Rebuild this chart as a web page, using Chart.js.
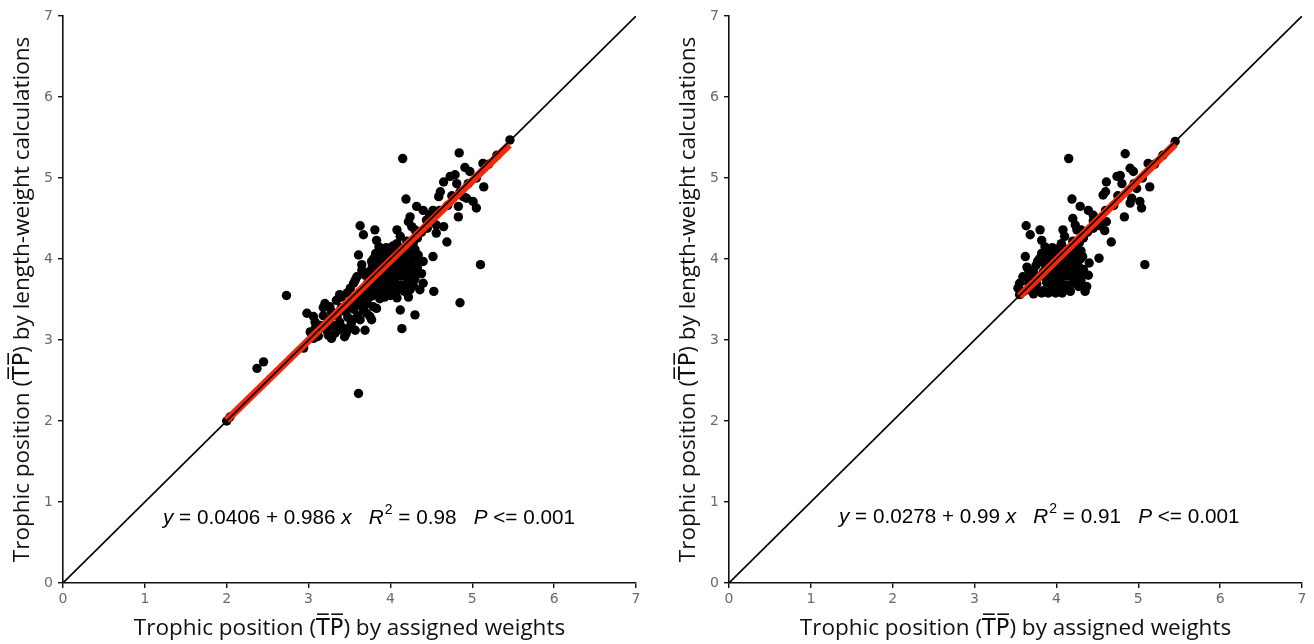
<!DOCTYPE html>
<html>
<head>
<meta charset="utf-8">
<script src="https://cdn.jsdelivr.net/npm/chart.js@4.4.0/dist/chart.umd.min.js"></script>
<style>
html,body{margin:0;padding:0;background:#fff;width:1314px;height:644px;overflow:hidden;}
#wl{position:absolute;left:0;top:0;width:657px;height:644px;}
#wr{position:absolute;left:666px;top:0;width:648px;height:644px;}
</style>
</head>
<body>
<div id="wl"><canvas id="cl"></canvas></div>
<div id="wr"><canvas id="cr"></canvas></div>
<script>
// ---------- data ----------
const tickValues = [0, 1, 2, 3, 4, 5, 6, 7];
const xTitle = "Trophic position (T\u0305P\u0305) by assigned weights";
const yTitle = "Trophic position (T\u0305P\u0305) by length-weight calculations";
const identityLine = [[0, 0], [7, 7]];

const leftPoints = [
[5.46,5.47],[4.84,5.31],[4.15,5.24],[5.13,5.18],[4.91,5.13],[4.97,5.08],[4.79,5.04],[4.73,5.02],[4.65,4.95],[4.81,4.93],[5.14,4.89],[4.61,4.83],[4.59,4.77],[4.85,4.83],[4.89,4.77],[4.93,4.75],[5.01,4.71],[5.05,4.63],[4.83,4.65],[4.83,4.52],[4.19,4.74],[4.32,4.65],[4.40,4.60],[4.52,4.60],[4.48,4.54],[4.24,4.52],[4.22,4.46],[4.26,4.40],[4.44,4.48],[4.56,4.42],[4.65,4.40],[4.56,4.32],[4.69,4.21],
[5.30,5.28],[5.20,5.17],[5.05,5.00],[4.95,4.93],[4.75,4.78],[4.70,4.66],[4.60,4.60],[4.50,4.47],[4.45,4.38],[4.38,4.33],[4.33,4.26],[4.28,4.20],[4.20,4.22],[4.30,4.36],
[3.63,4.41],[3.67,4.30],[3.81,4.36],[3.83,4.23],[4.08,4.36],[4.12,4.28],[4.08,4.19],[4.52,4.03],[4.40,3.97],[4.38,3.82],[4.40,3.70],[4.36,3.62],[5.10,3.93],[4.53,3.60],[4.85,3.46],[3.61,4.05],[3.65,3.93],[3.59,3.78],[3.57,3.74],[3.51,3.64],[3.55,3.70],[3.69,3.80],[3.77,3.97],[3.65,3.86],[4.24,3.62],[4.22,3.53],
[3.86,4.15],[3.95,4.14],[4.03,4.16],[4.13,4.13],[4.22,4.15],[4.30,4.12],
[3.82,4.07],[3.90,4.09],[3.99,4.06],[4.07,4.08],[4.16,4.05],[4.25,4.08],[4.34,4.05],
[3.79,4.00],[3.88,3.99],[3.96,4.01],[4.05,3.98],[4.12,4.00],[4.21,3.98],[4.29,4.01],[4.36,3.97],
[3.78,3.92],[3.86,3.93],[3.94,3.91],[4.02,3.93],[4.10,3.90],[4.18,3.92],[4.27,3.91],[4.33,3.89],
[3.75,3.85],[3.84,3.84],[3.92,3.86],[4.00,3.84],[4.09,3.85],[4.16,3.83],[4.25,3.85],[4.31,3.82],
[3.73,3.77],[3.82,3.79],[3.90,3.76],[3.98,3.78],[4.06,3.77],[4.14,3.79],[4.22,3.76],[4.30,3.75],
[3.72,3.70],[3.80,3.69],[3.88,3.71],[3.96,3.68],[4.04,3.70],[4.12,3.68],[4.20,3.70],[4.28,3.67],
[3.70,3.62],[3.78,3.63],[3.86,3.61],[3.94,3.63],[4.02,3.60],[4.10,3.62],[4.17,3.60],
[3.68,3.55],[3.77,3.54],[3.85,3.56],[3.93,3.53],[4.00,3.55],[4.08,3.52],
[4.12,3.37],[4.30,3.31],[4.14,3.14],[3.83,3.39],[3.75,3.29],[3.61,2.34],[2.73,3.55],[2.98,3.33],[3.06,3.29],[2.37,2.65],[2.45,2.73],[2.04,2.05],[2.00,2.00],[3.69,3.12],[3.44,3.04],[3.57,3.12],[3.20,3.45],[3.38,3.56],[3.47,3.58],[3.61,3.43],[3.67,3.37],[3.08,3.14],[3.10,3.04],[2.94,2.90],[3.49,3.14],[3.71,3.33],[3.77,3.25],[3.63,3.25],[3.87,3.51],[3.79,3.41],[3.26,3.41],[3.34,3.49],[3.40,3.53],
[3.02,3.10],[3.08,3.22],[3.12,3.05],[3.15,3.18],[3.18,3.30],[3.22,3.12],[3.25,3.25],[3.28,3.35],[3.30,3.18],[3.32,3.08],[3.35,3.30],[3.38,3.22],[3.40,3.40],[3.42,3.15],[3.45,3.35],[3.48,3.28],[3.50,3.45],[3.52,3.20],[3.55,3.38],[3.58,3.50],[3.60,3.30],[3.62,3.58],[3.65,3.48],[3.68,3.62],[3.70,3.52],[3.72,3.45],[3.36,3.12],[3.46,3.08],[3.54,3.25],[3.28,3.02],[3.18,3.40],[3.24,3.06],[3.74,3.60],[3.06,3.02]
];
const leftFit = [[2.00, 2.01], [5.45, 5.41]];
const leftEquation = {a: "0.0406", b: "0.986", r2: "0.98", p: "0.001"};

const rightPoints = [
[5.45,5.45],[4.84,5.30],[4.15,5.24],[5.12,5.18],[4.90,5.12],[4.94,5.08],[4.78,5.03],[4.74,5.02],[4.61,4.95],[4.80,4.93],[5.14,4.89],[4.57,4.79],[4.60,4.83],[4.98,4.87],[4.92,4.75],[4.90,4.69],[5.02,4.71],[5.04,4.63],[4.83,4.52],[4.19,4.74],[4.29,4.65],[4.39,4.60],[4.45,4.54],[4.20,4.50],[4.23,4.42],[4.25,4.36],[4.45,4.47],[4.53,4.41],[4.61,4.46],[4.59,4.35],[4.67,4.21],
[5.30,5.28],[5.20,5.17],[5.05,5.00],[4.95,4.93],[4.75,4.78],[4.70,4.66],[4.60,4.60],[4.50,4.47],[4.45,4.38],[4.38,4.33],[4.33,4.26],[4.28,4.20],[4.20,4.22],[4.30,4.36],
[3.63,4.41],[3.68,4.30],[3.80,4.36],[3.82,4.23],[4.08,4.36],[4.10,4.28],[4.06,4.19],[4.52,4.01],[4.40,3.95],[4.39,3.80],[4.37,3.66],[4.35,3.60],[5.08,3.93],[3.62,4.03],[3.64,3.90],[3.59,3.78],[3.55,3.70],[3.53,3.64],[3.69,3.80],[3.77,3.97],[3.66,3.86],[3.55,3.56],[3.60,3.60],
[3.86,4.15],[3.95,4.14],[4.03,4.13],[4.13,4.12],[4.22,4.13],[4.30,4.10],
[3.82,4.07],[3.90,4.09],[3.99,4.06],[4.07,4.08],[4.16,4.05],[4.25,4.06],[4.32,4.03],
[3.79,4.00],[3.88,3.99],[3.96,4.01],[4.05,3.98],[4.12,4.00],[4.21,3.98],[4.29,4.00],
[3.75,3.92],[3.86,3.93],[3.94,3.91],[4.02,3.93],[4.10,3.90],[4.18,3.92],[4.27,3.91],[4.33,3.87],
[3.72,3.85],[3.84,3.84],[3.92,3.86],[4.00,3.84],[4.09,3.85],[4.16,3.83],[4.25,3.85],[4.31,3.80],
[3.70,3.77],[3.82,3.79],[3.90,3.76],[3.98,3.78],[4.06,3.77],[4.14,3.79],[4.22,3.76],[4.30,3.74],
[3.66,3.70],[3.76,3.69],[3.88,3.71],[3.96,3.68],[4.04,3.70],[4.12,3.68],[4.20,3.70],[4.27,3.66],
[3.66,3.62],[3.75,3.63],[3.84,3.61],[3.94,3.63],[4.02,3.60],[4.10,3.62],[4.17,3.60],
[3.72,3.57],[3.82,3.58],[3.90,3.58],[3.99,3.58],[4.07,3.58]
];
const rightFit = [[3.55, 3.54], [5.45, 5.42]];
const rightEquation = {a: "0.0278", b: "0.99", r2: "0.91", p: "0.001"};

// ---------- chart ----------
const toXY = arr => arr.map(p => ({x: p[0], y: p[1]}));

function equationPlugin(eq, startX, baseY) {
  return {
    id: 'eq',
    afterDatasetsDraw(chart) {
      const ctx = chart.ctx;
      ctx.save();
      ctx.fillStyle = '#000';
      ctx.textBaseline = 'alphabetic';
      ctx.textAlign = 'left';
      const fam = '"Liberation Sans", Arial, sans-serif';
      const size = 20.7;
      const parts = [
        {t: 'y', it: true},
        {t: ' = ' + eq.a + ' + ' + eq.b + ' ', it: false},
        {t: 'x', it: true},
        {t: '   ', it: false},
        {t: 'R', it: true},
        {t: '2', sup: true},
        {t: ' = ' + eq.r2 + '   ', it: false},
        {t: 'P', it: true},
        {t: ' <= ' + eq.p, it: false}
      ];
      let x = startX;
      for (const p of parts) {
        if (p.sup) {
          ctx.font = Math.round(size * 0.7) + 'px ' + fam;
          ctx.fillText(p.t, x + 1, baseY - 10);
          x += ctx.measureText(p.t).width + 1;
        } else {
          ctx.font = (p.it ? 'italic ' : '') + size + 'px ' + fam;
          ctx.fillText(p.t, x, baseY);
          x += ctx.measureText(p.t).width;
        }
      }
      ctx.restore();
    }
  };
}

function makeChart(id, points, fit, eq, rightPad, eqX, eqY) {
  const tickFont = {family: '"DejaVu Sans", Verdana, sans-serif', size: 14};
  const titleFont = {family: '"Open Sans", "DejaVu Sans", sans-serif', size: 22.5};
  return new Chart(document.getElementById(id), {
    type: 'scatter',
    data: {
      datasets: [
        {type: 'line', data: toXY(identityLine), borderColor: '#000', borderWidth: 1.6, pointRadius: 0, fill: false, order: 0},
        {type: 'line', data: toXY(fit), borderColor: '#f5280a', borderWidth: 7.5, borderCapStyle: 'butt', pointRadius: 0, fill: false, order: 1},
        {type: 'scatter', data: toXY(points), backgroundColor: '#000', borderWidth: 0, pointRadius: 4.7, order: 2}
      ]
    },
    options: {
      responsive: true, maintainAspectRatio: false, animation: false,
      layout: {padding: {top: 16, right: rightPad, left: 0, bottom: 0}},
      plugins: {legend: {display: false}, tooltip: {enabled: false}},
      scales: {
        x: {
          type: 'linear', min: 0, max: 7,
          afterBuildTicks: s => { s.ticks = tickValues.map(v => ({value: v})); },
          afterFit: s => { s.height = 61; },
          border: {display: true, color: '#111', width: 1.6},
          grid: {drawOnChartArea: false, drawTicks: true, tickLength: 5, color: '#111', lineWidth: 1.4},
          ticks: {color: '#6a6a6a', font: tickFont, padding: 3, maxRotation: 0},
          title: {display: true, text: xTitle, color: '#111', font: titleFont, padding: {top: 0, bottom: 2}}
        },
        y: {
          type: 'linear', min: 0, max: 7,
          afterBuildTicks: s => { s.ticks = tickValues.map(v => ({value: v})); },
          afterFit: s => { s.width = 63; },
          border: {display: true, color: '#111', width: 1.6},
          grid: {drawOnChartArea: false, drawTicks: true, tickLength: 5, color: '#111', lineWidth: 1.4},
          ticks: {color: '#6a6a6a', font: tickFont, padding: 5},
          title: {display: true, text: yTitle, color: '#111', font: titleFont, padding: {top: 9, bottom: 0}}
        }
      }
    },
    plugins: [equationPlugin(eq, eqX, eqY)]
  });
}

makeChart('cl', leftPoints, leftFit, leftEquation, 21, 163, 524);
makeChart('cr', rightPoints, rightFit, rightEquation, 12, 839 - 666, 523);
</script>
</body>
</html>
